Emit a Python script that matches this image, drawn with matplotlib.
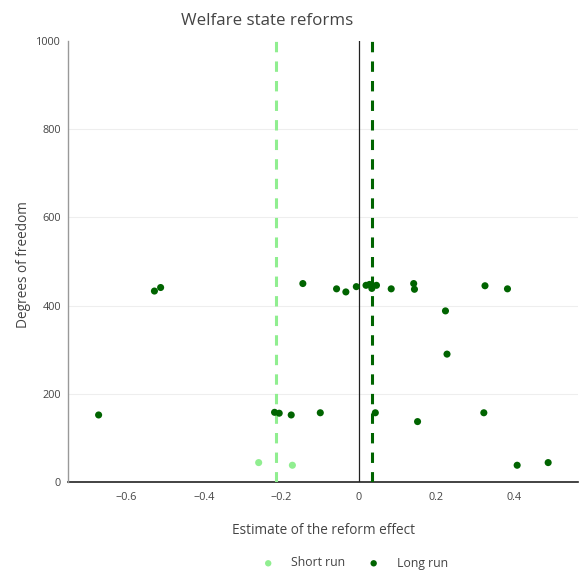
import numpy as np
import matplotlib.pyplot as plt
from matplotlib.ticker import FuncFormatter

plt.rcParams['font.family'] = ['Open Sans', 'DejaVu Sans']

# Short-run estimates: (effect, degrees of freedom)
short_effect = [-0.259, -0.172]
short_df = [44, 38]

# Long-run estimates
long_effect = [-0.672, -0.528, -0.512, -0.145, -0.218, -0.206, -0.175, -0.100,
               -0.058, -0.034, -0.007, 0.018, 0.027, 0.035, 0.045, 0.033,
               0.083, 0.141, 0.143, 0.325, 0.383, 0.223, 0.227, 0.042,
               0.151, 0.322, 0.408, 0.488]
long_df = [152, 433, 441, 450, 158, 156, 152, 157,
           438, 431, 443, 446, 448, 445, 446, 439,
           438, 450, 437, 445, 438, 388, 290, 157,
           137, 157, 38, 44]

# Average effects shown as dashed lines
short_mean = -0.215
long_mean = 0.033

light = '#90ee90'
dark = '#006400'
txt = '#444444'

fig = plt.figure(figsize=(5.79, 5.70), dpi=100)
ax = fig.add_axes([68 / 579, 88 / 570, 510 / 579, 441 / 570])

ax.set_xlim(-0.751, 0.565)
ax.set_ylim(0, 1000)

# grid and zero lines
for y in [200, 400, 600, 800]:
    ax.axhline(y, color='#eeeeee', lw=0.8, zorder=0)
ax.axvline(0, color='#222222', lw=0.9, zorder=1)
ax.axhline(0, color='#222222', lw=1.2, zorder=1, clip_on=False)

ax.axvline(short_mean, color=light, lw=2.2, ls=(0, (3.4, 3.0)), zorder=2)
ax.axvline(long_mean, color=dark, lw=2.2, ls=(0, (3.4, 3.0)), zorder=2)

ax.scatter(short_effect, short_df, s=26, color=light, edgecolors='none',
           zorder=3, label='Short run')
ax.scatter(long_effect, long_df, s=26, color=dark, edgecolors='none',
           zorder=3, label='Long run')

for s in ['top', 'right', 'bottom']:
    ax.spines[s].set_visible(False)
ax.spines['left'].set_color('#999999')
ax.spines['left'].set_linewidth(1.0)

ax.set_xticks([-0.6, -0.4, -0.2, 0, 0.2, 0.4])
ax.set_yticks([0, 200, 400, 600, 800, 1000])
ax.xaxis.set_major_formatter(FuncFormatter(
    lambda v, p: '0' if abs(v) < 1e-9 else f'{v:.1f}'.replace('-', '\u2212')))
ax.tick_params(axis='both', length=0, labelsize=7.8, colors=txt)
ax.tick_params(axis='x', pad=7)
ax.tick_params(axis='y', pad=5)

fig.text(267 / 579, 1 - 21 / 570, 'Welfare state reforms', ha='center',
         va='center', fontsize=12.2, color=txt)
fig.text(323 / 579, 1 - 531 / 570, 'Estimate of the reform effect',
         ha='center', va='center', fontsize=9.8, color=txt)
fig.text(24 / 579, 1 - 265 / 570, 'Degrees of freedom', ha='center',
         va='center', rotation=90, fontsize=9.8, color=txt)

fig.legend(loc='center', bbox_to_anchor=(352 / 579, 1 - 563 / 570), ncol=2,
           frameon=False, fontsize=8.8, labelcolor=txt, handletextpad=0.9,
           columnspacing=1.3, markerscale=0.9)

fig.savefig('out.png', dpi=100)
